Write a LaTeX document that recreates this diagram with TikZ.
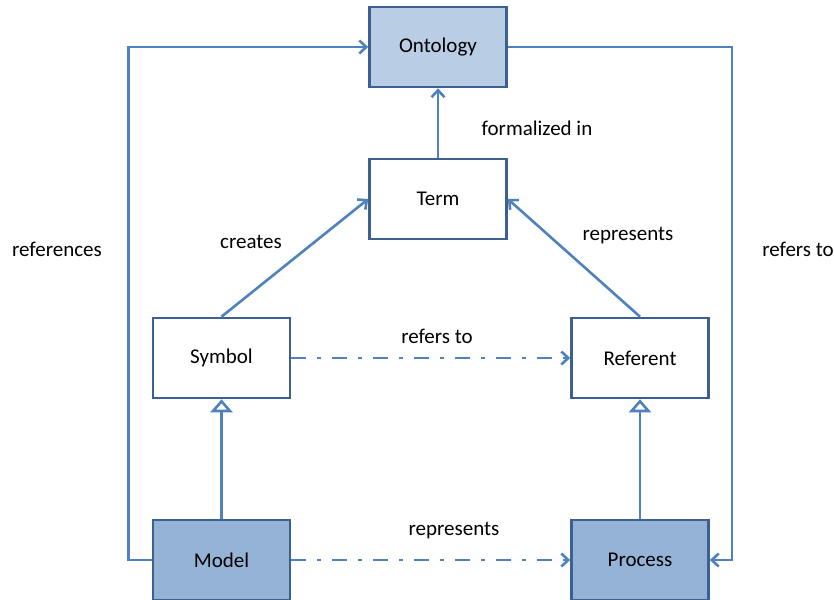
\documentclass[tikz,border=0pt]{standalone}
\usepackage{fontspec}
\setmainfont{Carlito}
\usetikzlibrary{arrows.meta}
\definecolor{boxline}{HTML}{3C6190}
\definecolor{connline}{HTML}{4F81BD}
\definecolor{lightfill}{HTML}{B9CDE5}
\definecolor{darkfill}{HTML}{95B3D7}
\begin{document}
\begin{tikzpicture}
		[x=1pt,y=-1pt,
		every node/.style={font=\fontsize{21}{25}\selectfont},
		box/.style={rectangle,draw=boxline,line width=2.6pt,fill=white,minimum width=137pt,minimum height=80pt,inner sep=0pt},
		conn/.style={draw=connline,line width=2.6pt,-{Straight Barb[length=7pt,width=13pt]}},
		realize/.style={draw=connline,line width=2.6pt,dash pattern=on 15pt off 11pt on 4pt off 11pt,-{Straight Barb[length=7pt,width=13pt]}},
		inherit/.style={draw=connline,line width=2.6pt,-{Triangle[open,length=13pt,width=22pt,fill=white]}}]
		\useasboundingbox (0,0) rectangle (834,599);
		\node[box,fill=lightfill] (ontology) at (438,47) {Ontology};
		\node[box] (term) at (438,199) {Term};
		\node[box] (symbol) at (221.5,358) {Symbol};
		\node[box] (referent) at (640,358) {Referent};
		\node[box,fill=darkfill] (model) at (221.5,560) {Model};
		\node[box,fill=darkfill] (process) at (640,560) {Process};
		\draw[conn] (term) -- (ontology);
		\draw[conn] (symbol.north) -- (term.west);
		\draw[conn] (referent.north) -- (term.east);
		\draw[realize] (symbol) -- (referent);
		\draw[realize] (model) -- (process);
		\draw[inherit] (model) -- (symbol);
		\draw[inherit] (process) -- (referent);
		\draw[conn] (model.west) -- ++(-23,0) |- (ontology.west);
		\draw[conn] (ontology.east) -- ++(224,0) |- (process.east);
		\node (formalized) at (537,128) {formalized in};
		\node (creates) at (251,242) {creates};
		\node (represents1) at (628,236) {represents};
		\node (refersto1) at (437,336) {refers to};
		\node (represents2) at (454,531) {represents};
		\node (references) at (57,249) {references};
		\node (refersto2) at (798,249) {refers to};
\end{tikzpicture}
\end{document}
